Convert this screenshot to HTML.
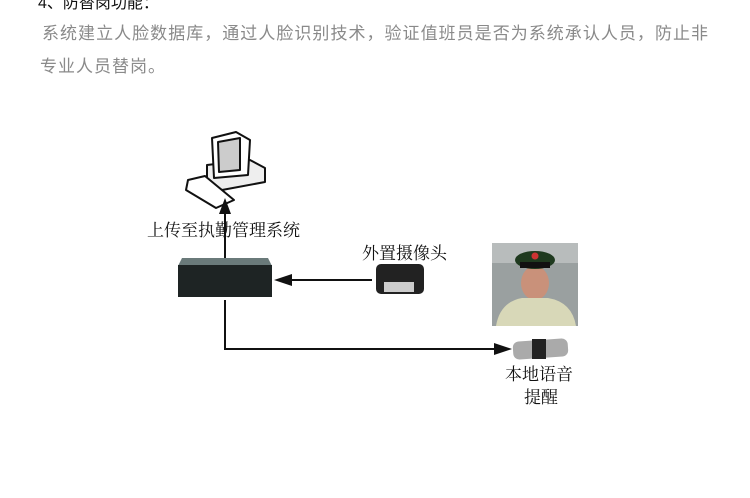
<!DOCTYPE html>
<html><head><meta charset="utf-8"><style>
body{margin:0;width:750px;height:498px;background:#fff;position:relative;overflow:hidden;font-family:"Liberation Sans","Noto Sans CJK SC",sans-serif}
.t{position:absolute;white-space:nowrap}
.s{font-family:"Liberation Serif","Noto Serif CJK SC",serif;color:#111;font-size:17px}
</style></head><body>
<div class="t" style="left:38px;top:-11px;font-size:16px;color:#111">4、防替岗功能：</div>
<div class="t" style="left:42px;top:19px;width:666px;font-size:17px;color:#8a8a8a;text-align:justify;text-align-last:justify;white-space:normal">系统建立人脸数据库，通过人脸识别技术，验证值班员是否为系统承认人员，防止非</div>
<div class="t" style="left:40px;top:52px;font-size:17px;letter-spacing:1px;color:#8a8a8a">专业人员替岗。</div>

<svg width="750" height="498" style="position:absolute;left:0;top:0">
<g stroke="#111" stroke-width="2" fill="#fff" stroke-linejoin="round">
<polygon points="207,165 250,160 265,168 265,182 222,190 207,182" fill="#eee"/>
<polygon points="212,138 236,132 250,140 248,175 214,178"/>
<polygon points="218,142 240,138 240,170 219,172" fill="#ccc"/>
<polygon points="188,180 205,176 234,200 216,208 186,190"/>
</g>
<g stroke="#111" stroke-width="2" fill="none">
<line x1="225" y1="262" x2="225" y2="212"/>
<line x1="372" y1="280" x2="290" y2="280"/>
<polyline points="225,300 225,349 498,349"/>
</g>
<polygon points="225,198 219,214 231,214" fill="#111"/>
<polygon points="274,280 292,274 292,286" fill="#111"/>
<polygon points="512,349 494,343 494,355" fill="#111"/>
<polygon points="182,258 268,258 272,266 178,266" fill="#6a7a7a"/>
<rect x="178" y="265" width="94" height="32" fill="#1e2424"/>
<rect x="376" y="264" width="48" height="30" rx="5" fill="#222"/>
<rect x="384" y="282" width="30" height="10" fill="#ccc"/>
<rect x="492" y="243" width="86" height="83" fill="#9aa0a0"/>
<rect x="492" y="243" width="86" height="20" fill="#b8bcbc"/>
<ellipse cx="535" cy="283" rx="14" ry="17" fill="#c9917a"/>
<ellipse cx="535" cy="260" rx="20" ry="9" fill="#1f3a1f"/>
<rect x="520" y="262" width="30" height="6" fill="#111"/>
<circle cx="535" cy="256" r="3.5" fill="#c33"/>
<path d="M496,326 Q500,302 522,298 L548,298 Q572,302 576,326 Z" fill="#d8d8b8"/>
<rect x="513" y="340" width="55" height="18" rx="6" fill="#aaa" transform="rotate(-4 540 349)"/>
<rect x="532" y="339" width="14" height="20" fill="#222"/>
</svg>

<div class="t s" style="left:147px;top:216px">上传至执勤管理系统</div>
<div class="t s" style="left:362px;top:239px">外置摄像头</div>
<div class="t s" style="left:505px;top:360px">本地语音</div>
<div class="t s" style="left:524px;top:383px">提醒</div>
</body></html>
